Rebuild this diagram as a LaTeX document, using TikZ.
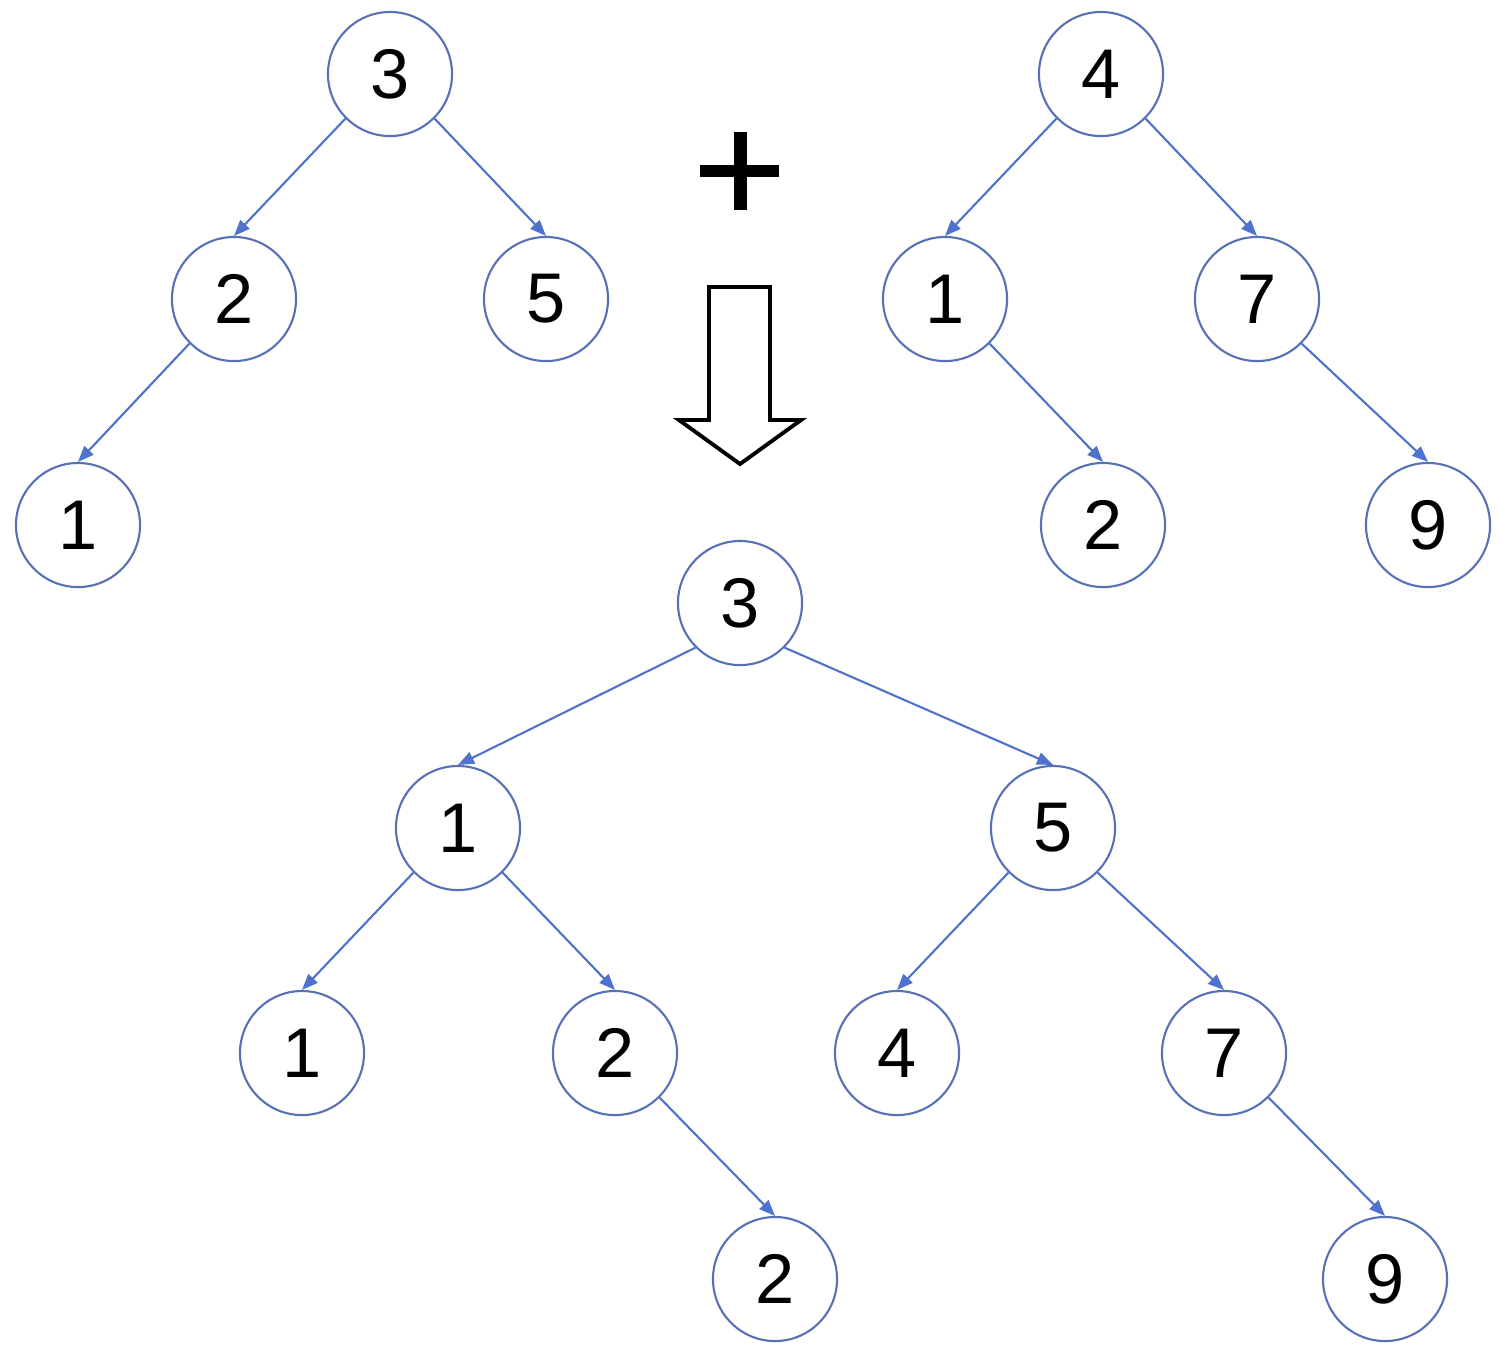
\documentclass[tikz,border=0pt]{standalone}
\usepackage{fontspec}
\setmainfont{Liberation Sans}
\usetikzlibrary{arrows.meta}
\definecolor{edgeblue}{RGB}{78,114,205}
\definecolor{circblue}{RGB}{88,112,182}
\begin{document}
\begin{tikzpicture}[x=0.01cm,y=-0.01cm,
  tnode/.style={circle,draw=circblue,line width=0.6pt,minimum size=1.24cm,inner sep=0pt,font=\fontsize{20}{24}\selectfont},
  tedge/.style={draw=edgeblue,line width=0.6pt,-{Triangle[length=0.16cm,width=0.125cm]}}]
\useasboundingbox (0,0) rectangle (1501,1365);
% tree A
\node[tnode] (a3) at (390,74) {3};
\node[tnode] (a2) at (234,299) {2};
\node[tnode] (a5) at (546,299) {5};
\node[tnode] (a1) at (78,525) {1};
\draw[tedge] (a3.south west) -- (a2.north);
\draw[tedge] (a3.south east) -- (a5.north);
\draw[tedge] (a2.south west) -- (a1.north);
% tree B
\node[tnode] (b4) at (1101,74) {4};
\node[tnode] (b1) at (945,299) {1};
\node[tnode] (b7) at (1257,299) {7};
\node[tnode] (b2) at (1103,525) {2};
\node[tnode] (b9) at (1428,525) {9};
\draw[tedge] (b4.south west) -- (b1.north);
\draw[tedge] (b4.south east) -- (b7.north);
\draw[tedge] (b1.south east) -- (b2.north);
\draw[tedge] (b7.south east) -- (b9.north);
% result
\node[tnode] (r3) at (740,603) {3};
\node[tnode] (r1) at (458,828) {1};
\node[tnode] (r5) at (1053,828) {5};
\node[tnode] (r11) at (302,1053) {1};
\node[tnode] (r2) at (615,1053) {2};
\node[tnode] (r4) at (897,1053) {4};
\node[tnode] (r7) at (1224,1053) {7};
\node[tnode] (r22) at (775,1279) {2};
\node[tnode] (r9) at (1385,1279) {9};
\draw[tedge] (r3.south west) -- (r1.north);
\draw[tedge] (r3.south east) -- (r5.north);
\draw[tedge] (r1.south west) -- (r11.north);
\draw[tedge] (r1.south east) -- (r2.north);
\draw[tedge] (r5.south west) -- (r4.north);
\draw[tedge] (r5.south east) -- (r7.north);
\draw[tedge] (r2.south east) -- (r22.north);
\draw[tedge] (r7.south east) -- (r9.north);
% plus sign
\fill[black] (700,165) rectangle (779,177);
\fill[black] (733.5,132) rectangle (746.5,210);
% hollow arrow
\draw[black,line width=1.1pt,line join=miter] (709,287) -- (770,287) -- (770,420) -- (801,420) -- (740,464) -- (679,420) -- (709,420) -- cycle;
\end{tikzpicture}
\end{document}
